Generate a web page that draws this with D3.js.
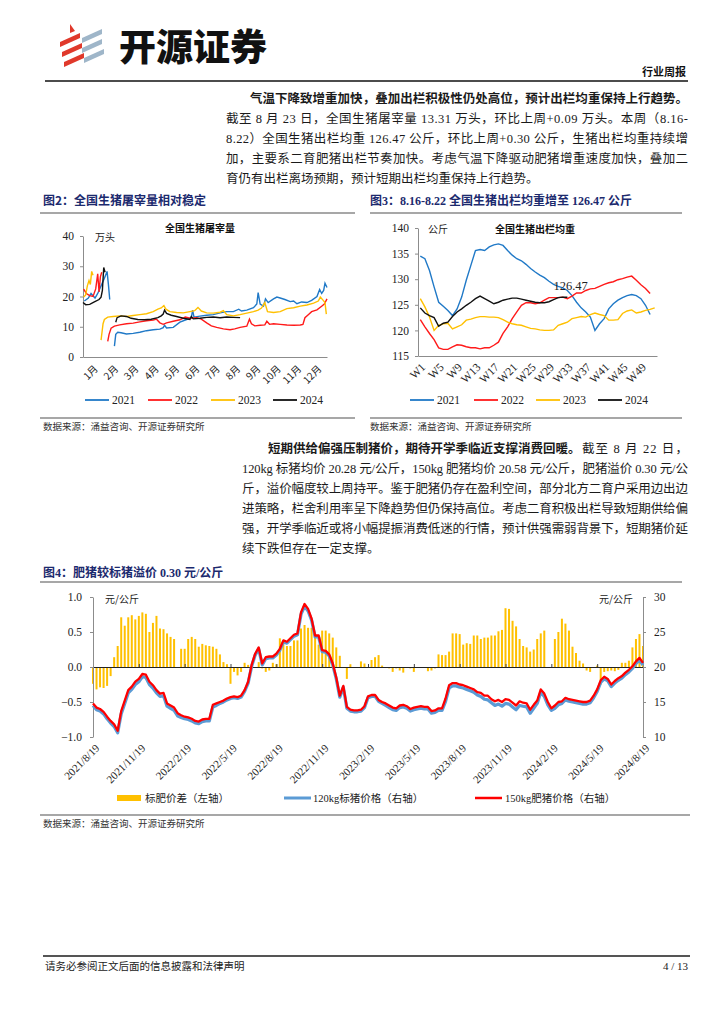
<!DOCTYPE html>
<html><head><meta charset="utf-8">
<script src="https://cdn.jsdelivr.net/npm/d3@7"></script>
<style>body{margin:0;background:#fff}svg{display:block}</style>
</head><body>
<svg id="page" width="724" height="1024"></svg>
<script>
// ---------------- DATA ----------------
// Fig 2: national hog slaughter volume (万头), [day-of-year index, value], null = gap
const slaughterMonths = ["1月","2月","3月","4月","5月","6月","7月","8月","9月","10月","11月","12月"];
const slaughterTicks = [0,10,20,30,40];
const slaughter2021 = [[2,18.5],[8,19.5],[12,21],[18,19.5],[22,21],[28,24],[32,26],[36,28.3],[38,24],[40,19],[44,null],
 [47,3.6],[49,7.5],[52,8.2],[57,8],[65,7.6],[75,7.8],[85,8.2],[95,8.7],[105,9.0],[115,9.2],[120,9.7],[122,10.5],[125,9.6],[135,9.8],[145,11.5],[155,12.4],[162,13],[164,15.5],[166,13.2],[175,13.5],[185,13.8],[195,14.0],[205,14.6],[215,15.0],[225,15.0],[233,15.8],[237,15.2],[245,15.5],[255,16.3],[260,17.5],[262,21.3],[265,17.5],[270,16.8],[273,19.2],[277,18.0],[285,19.2],[290,19.8],[295,19.5],[302,19.0],[310,18.3],[315,18.5],[320,17.6],[327,18.2],[335,18.0],[342,18.7],[350,20.0],[354,22.3],[357,21.0],[360,22.0],[362,24.4],[365,23.0]];
const slaughter2022 = [[1,22.4],[5,21.0],[10,20.3],[15,20.0],[19,22.5],[22,27.5],[24,21.5],[26,26.5],[28,28.0],[32,null],
 [37,5.2],[39,7.5],[42,9.5],[47,10.2],[55,10.6],[65,11.0],[75,11.2],[85,11.6],[95,12.0],[105,12.2],[110,12.5],[115,11.3],[120,10.8],[125,11.3],[135,11.8],[145,12.3],[153,13.2],[160,12.8],[170,13.0],[177,12.5],[185,11.3],[192,10.3],[200,9.8],[210,9.3],[220,9.0],[227,9.3],[235,9.8],[245,10.2],[249,12.5],[252,11.0],[257,10.3],[265,10.5],[272,10.6],[275,11.8],[279,10.8],[285,11.0],[295,10.8],[305,10.6],[315,10.5],[325,10.6],[329,10.8],[332,13.0],[337,14.0],[342,15.0],[350,15.6],[357,16.8],[361,17.5],[365,19.2]];
const slaughter2023 = [[1,19.8],[4,20.5],[6.5,23.5],[9,25.3],[11,24.0],[13,28.3],[15,27.0],[20,null],
 [27,5.6],[30,11.0],[32,12.4],[37,13.2],[45,13.4],[55,13.6],[65,13.4],[75,13.7],[85,14.0],[95,14.3],[105,15.0],[112,15.8],[117,16.2],[121,17.0],[124,15.8],[130,15.0],[140,14.7],[150,14.6],[160,15.0],[167,15.3],[172,16.4],[177,15.2],[185,14.6],[195,14.5],[205,14.8],[210,15.3],[215,14.0],[225,13.6],[235,14.0],[245,14.5],[255,15.0],[262,15.5],[267,16.2],[272,18.0],[276,15.0],[285,14.7],[295,15.0],[305,16.0],[315,16.3],[325,16.8],[335,17.2],[345,17.8],[352,18.5],[355,19.8],[359,18.8],[362,18.0],[364,14.2]];
const slaughter2024 = [[0,18.0],[4,17.3],[10,17.4],[17,18.2],[24,19.0],[27,19.8],[29,22],[31,29.6],[33,28.0],[40,null],
 [49,11.5],[51,13.0],[57,13.6],[65,13.4],[72,12.8],[82,12.4],[92,12.3],[102,12.5],[112,13.0],[117,13.6],[120,14.2],[122,15.5],[125,14.4],[132,13.8],[140,13.4],[150,12.8],[160,12.4],[162,13.4],[165,12.6],[175,12.8],[185,13.1],[195,13.2],[205,13.0],[215,13.2],[225,13.1],[235,13.0]];

// Fig 3: average marketed weight (公斤), weekly W1..W52
const weightWeeks = d3.range(1,53).map(w => "W" + w);
const weightTickWeeks = ["W1","W5","W9","W13","W17","W21","W25","W29","W33","W37","W41","W45","W49"];
const weightTicks = [115,120,125,130,135,140];
const weight2021 = [134.5,134.0,131.7,128.5,125.5,124.7,123.9,122.9,124.2,126.5,129.8,132.7,135.6,135.8,135.6,136.3,136.7,136.9,136.6,135.6,134.7,134.0,133.6,132.9,132.1,131.4,130.8,130.3,129.6,129.0,128.6,128.3,127.8,126.8,125.5,124.4,123.6,122.6,120.0,121.3,122.3,124.2,125.2,125.9,126.4,126.8,127.0,126.8,126.2,124.9,123.1];
const weight2022 = [122.1,120.7,119.4,118.2,116.6,116.3,116.3,116.8,117.2,117.1,116.8,116.6,116.6,116.4,116.6,116.6,117.1,117.7,119.4,120.7,122.3,123.6,124.9,125.4,125.4,125.2,125.4,125.9,126.4,126.4,126.4,126.5,126.2,126.7,127.3,127.3,127.8,128.1,128.2,128.6,129.0,129.3,129.5,129.9,130.1,130.4,130.6,129.8,128.9,128.2,127.2];
const weight2023 = [126.2,124.6,122.6,120.0,121.0,121.3,121.4,120.3,120.7,121.1,122.0,122.2,122.5,122.7,122.7,122.6,122.6,122.5,122.1,121.6,121.3,121.1,121.0,120.7,120.4,120.3,120.1,120.0,120.0,120.1,121.0,121.3,121.6,122.3,122.5,122.7,122.6,123.1,123.4,123.1,122.9,122.0,122.0,122.1,123.3,123.8,124.0,123.4,123.6,123.9,124.1,124.4];
const weight2024 = [124.4,123.4,122.9,122.5,120.8,121.4,121.6,122.7,123.6,124.2,124.9,125.5,126.2,126.7,126.2,125.7,125.2,125.5,125.9,126.1,126.3,126.3,126.1,125.9,125.7,125.5,125.4,125.4,125.6,126.0,126.4,126.5,126.47];

// Fig 4: weekly 2021/8/19 .. 2024/8/19
const priceDateLabels = ["2021/8/19","2021/11/19","2022/2/19","2022/5/19","2022/8/19","2022/11/19","2023/2/19","2023/5/19","2023/8/19","2023/11/19","2024/2/19","2024/5/19","2024/8/19"];
const spreadTicks = [-1.0,-0.5,0.0,0.5,1.0];
const priceTicks = [10,15,20,25,30];
const spread = [-0.24,-0.32,-0.29,-0.30,-0.27,-0.13,0.14,0.30,0.71,0.59,
 0.71,0.74,0.68,0.73,0.78,0.76,0.50,0.63,0.73,0.55,
 0.54,0.48,0.43,0.40,null,0.26,0.26,0.40,0.43,0.40,
 0.29,0.33,0.31,0.30,0.29,0.26,0.18,0.07,0.04,-0.24,
 -0.07,-0.12,-0.07,0.06,0.03,null,null,0.07,-0.02,-0.07,
 -0.05,0.06,0.04,0.41,0.37,0.30,0.30,0.38,0.38,0.55,
 0.60,0.56,0.56,0.46,0.32,0.52,0.52,0.48,0.42,0.28,
 0.16,-0.01,-0.17,0.04,null,null,0.08,0.05,null,0.10,
 0.14,0.17,0.02,null,-0.02,-0.07,-0.02,-0.05,-0.08,-0.01,
 -0.02,-0.07,null,-0.01,null,-0.06,-0.05,-0.02,0.18,0.17,
 0.17,0.22,0.48,0.48,0.47,0.32,0.34,0.33,0.45,0.45,
 0.40,0.42,0.42,0.45,0.45,0.51,0.53,0.84,0.83,0.66,
 0.58,0.40,0.30,0.28,0.22,0.25,0.40,0.48,0.52,null,
 null,0.40,0.50,0.69,0.62,0.52,0.29,0.20,0.09,0.05,
 -0.05,-0.07,null,0.02,-0.25,-0.07,-0.06,-0.05,-0.06,-0.04,
 0.06,0.06,0.09,0.28,0.40,0.47,0.30];
const price150 = [14.8,14.2,14.0,13.6,12.9,12.3,11.8,10.9,13.7,15.2,
 16.7,17.2,17.9,18.3,19.0,18.9,17.9,17.4,16.7,16.2,
 16.3,14.8,14.5,14.2,13.4,13.1,12.9,12.8,12.6,12.3,
 12.2,12.5,12.6,12.6,14.6,14.8,15.0,15.2,15.5,15.7,
 15.8,15.7,15.9,16.7,17.9,20.3,21.9,22.8,20.5,21.4,
 21.5,21.5,21.9,22.6,23.8,23.6,24.1,24.6,24.8,27.8,
 29.0,28.3,26.9,24.5,24.5,22.4,22.3,21.8,20.5,18.5,
 15.9,17.3,14.3,13.9,13.8,13.8,13.9,14.4,15.8,16.0,
 16.0,15.3,15.0,14.8,14.5,14.2,14.1,14.5,14.6,14.4,
 14.0,14.2,14.3,14.4,14.3,14.3,13.7,13.8,14.1,14.1,
 15.5,17.4,17.7,17.7,17.5,17.4,17.2,17.0,16.8,16.4,
 16.3,15.9,15.9,15.4,15.1,15.3,15.0,15.4,15.3,14.9,
 14.5,15.1,14.9,14.8,13.9,14.6,15.2,16.8,16.2,15.0,
 14.1,14.5,15.0,15.1,15.6,15.4,15.3,15.2,15.1,15.0,
 15.0,15.2,15.9,16.8,18.1,18.6,18.3,17.5,18.0,18.4,
 18.7,19.2,19.6,20.1,20.8,21.3,20.58];
const price120 = [14.5,13.9,13.7,13.3,12.6,12.0,11.5,10.6,13.3,14.8,
 16.3,16.8,17.5,17.9,18.6,18.5,17.5,17.0,16.3,15.8,
 15.9,14.4,14.1,13.8,13.0,12.8,12.6,12.5,12.3,12.0,
 11.9,12.2,12.3,12.3,14.3,14.5,14.8,15.0,15.3,15.5,
 15.6,15.5,15.7,16.5,17.7,20.1,21.7,22.6,20.3,21.2,
 21.3,21.3,21.7,22.4,23.6,23.4,23.9,24.4,24.6,27.5,
 28.7,28.0,26.7,24.3,24.3,22.2,22.1,21.6,20.3,18.3,
 15.7,17.1,14.1,13.7,13.6,13.6,13.7,14.2,15.6,15.8,
 15.8,15.1,14.8,14.5,14.2,13.9,13.8,14.2,14.3,14.1,
 13.7,13.9,14.0,14.1,14.0,14.0,13.4,13.5,13.8,13.8,
 15.1,17.0,17.3,17.3,17.1,17.0,16.8,16.6,16.4,16.0,
 15.8,15.4,15.3,14.9,14.5,14.7,14.4,14.8,14.7,14.3,
 13.9,14.5,14.4,14.3,13.4,14.1,14.8,16.4,15.8,14.6,
 13.8,14.1,14.6,14.8,15.3,15.1,15.0,14.9,14.8,14.7,
 14.7,14.9,15.6,16.5,17.8,18.3,18.0,17.2,17.7,18.1,
 18.4,18.9,19.3,19.8,20.5,21.0,20.28];

// ---------------- DRAWING ----------------
const svg = d3.select("#page");
const SERIF = "'Liberation Serif','Noto Sans CJK SC',serif";
const CJK = "'Noto Sans CJK SC',sans-serif";
const NAVY = "#1c2a6e";
const C = {b:"#2079c7", r:"#ff1a1a", y:"#ffc000", k:"#111111"};

function txt(x, y, s, o = {}) {
  const t = svg.append("text").attr("x", x).attr("y", y).text(s)
    .attr("font-family", o.family || SERIF).attr("font-size", o.size || 12)
    .attr("fill", o.fill || "#1a1a1a");
  if (o.bold) t.attr("font-weight", "bold");
  if (o.anchor) t.attr("text-anchor", o.anchor);
  if (o.len) t.attr("textLength", o.len).attr("lengthAdjust", "spacing");
  return t;
}
function hline(x1, x2, y, color, w) {
  svg.append("line").attr("x1", x1).attr("x2", x2).attr("y1", y).attr("y2", y)
    .attr("stroke", color).attr("stroke-width", w);
}

// Header / logo
const logo = svg.append("g");
[[60,42],[62,52],[64,62]].forEach(([x, y]) => {
  logo.append("path").attr("d", `M${x},${y} L${x+20},${y-9} L${x+20},${y-4} L${x},${y+5} Z`).attr("fill", "#e0392b");
});
logo.append("path").attr("d", "M70,24 L75,31 L70,33 Z").attr("fill", "#e0392b");
[[82,38],[82,48],[84,58]].forEach(([x, y]) => {
  logo.append("path").attr("d", `M${x},${y} L${x+20},${y-9} L${x+20},${y-4} L${x},${y+5} Z`).attr("fill", "#9fb6c9");
});
txt(119, 61, "开源证券", {family: CJK, size: 37, bold: true, fill: "#111"}).attr("font-weight", 900);
txt(686, 76, "行业周报", {family: CJK, size: 11, bold: true, anchor: "end", fill: "#111"});
hline(45, 688, 81, "#111", 1.3);

// Paragraph 1
const p1L = 226, pR = 688;
txt(250, 103, "气温下降致增重加快，叠加出栏积极性仍处高位，预计出栏均重保持上行趋势。", {family: CJK, size: 12.5, bold: true, len: pR - 250});
txt(p1L, 123, "截至 8 月 23 日，全国生猪屠宰量 13.31 万头，环比上周+0.09 万头。本周（8.16-", {size: 12.5, len: pR - p1L});
txt(p1L, 143, "8.22）全国生猪出栏均重 126.47 公斤，环比上周+0.30 公斤，生猪出栏均重持续增", {size: 12.5, len: pR - p1L});
txt(p1L, 163, "加，主要系二育肥猪出栏节奏加快。考虑气温下降驱动肥猪增重速度加快，叠加二", {size: 12.5, len: pR - p1L});
txt(p1L, 183, "育仍有出栏离场预期，预计短期出栏均重保持上行趋势。", {size: 12.5});

// Figure titles
txt(43, 205, "图2：全国生猪屠宰量相对稳定", {family: CJK, size: 12, bold: true, fill: NAVY});
txt(370, 205, "图3：8.16-8.22 全国生猪出栏均重增至 126.47 公斤", {size: 12, bold: true, fill: NAVY});
hline(40, 355, 213, "#8a8a8a", 1.5);
hline(370, 682, 213, "#8a8a8a", 1.5);
hline(40, 355, 418, "#8a8a8a", 1.5);
hline(370, 682, 418, "#8a8a8a", 1.5);
txt(43, 430, "数据来源：涌益咨询、开源证券研究所", {family: CJK, size: 9.5, fill: "#333"});
txt(370, 430, "数据来源：涌益咨询、开源证券研究所", {family: CJK, size: 9.5, fill: "#333"});

function styleAxis(g, fs) {
  g.selectAll(".domain").attr("stroke", "#8c8c8c");
  g.selectAll(".tick line").attr("stroke", "#8c8c8c");
  g.selectAll("text").attr("font-family", SERIF).attr("font-size", fs || 11.5).attr("fill", "#222");
}
function legend(items, y) {
  items.forEach(it => {
    svg.append("line").attr("x1", it.x).attr("x2", it.x + 24).attr("y1", y).attr("y2", y)
      .attr("stroke", it.c).attr("stroke-width", 1.8);
    txt(it.x + 27, y + 4, it.t, {size: 11.5, fill: "#222"});
  });
}

// ---- Fig 2 ----
{
  const x = d3.scaleLinear().domain([0, 365]).range([83, 327]);
  const y = d3.scaleLinear().domain([0, 40]).range([357, 236]);
  const xm = d3.scaleBand().domain(slaughterMonths).range([83, 327]);
  const ga = svg.append("g").attr("transform", "translate(83,0)")
    .call(d3.axisLeft(y).tickValues(slaughterTicks).tickSize(3).tickSizeOuter(0).tickPadding(6));
  styleAxis(ga);
  const gb = svg.append("g").attr("transform", "translate(0,357)")
    .call(d3.axisBottom(xm).tickSize(0).tickSizeOuter(0));
  styleAxis(gb, 11);
  gb.selectAll("text").attr("font-family", "'Noto Sans CJK SC'").attr("font-size", 10)
    .attr("text-anchor", "end").attr("y", 0).attr("dy", "0.35em")
    .attr("transform", "translate(3,10) rotate(-45)");
  txt(200, 232, "全国生猪屠宰量", {family: CJK, size: 10, bold: true, anchor: "middle", fill: "#111"});
  txt(95, 241, "万头", {family: CJK, size: 10, fill: "#222"});
  const line = d3.line().defined(d => d[1] !== null).x(d => x(d[0])).y(d => y(d[1]));
  [[slaughter2021, C.b], [slaughter2022, C.r], [slaughter2023, C.y], [slaughter2024, C.k]].forEach(([d, c]) => {
    svg.append("path").datum(d).attr("d", line).attr("fill", "none").attr("stroke", c).attr("stroke-width", 1.4);
  });
  legend([{x: 85, c: C.b, t: "2021"}, {x: 148, c: C.r, t: "2022"}, {x: 211, c: C.y, t: "2023"}, {x: 273, c: C.k, t: "2024"}], 400);
}

// ---- Fig 3 ----
{
  const x = d3.scaleBand().domain(weightWeeks).range([418, 657]);
  const xc = w => x(w) + x.bandwidth() / 2;
  const y = d3.scaleLinear().domain([115, 140]).range([356, 228]);
  const ga = svg.append("g").attr("transform", "translate(418,0)")
    .call(d3.axisLeft(y).tickValues(weightTicks).tickSize(3).tickSizeOuter(0).tickPadding(6));
  styleAxis(ga);
  const gb = svg.append("g").attr("transform", "translate(0,356)")
    .call(d3.axisBottom(x).tickValues(weightTickWeeks).tickSize(0).tickSizeOuter(0));
  styleAxis(gb, 11.5);
  gb.selectAll("text").attr("text-anchor", "end").attr("y", 0).attr("dy", "0.35em")
    .attr("transform", "translate(3,9) rotate(-45)");
  txt(535, 233, "全国生猪出栏均重", {family: CJK, size: 10, bold: true, anchor: "middle", fill: "#111"});
  txt(428, 233, "公斤", {family: CJK, size: 10, fill: "#222"});
  const line = d3.line().x((d, i) => xc(weightWeeks[i])).y(d => y(d));
  [[weight2021, C.b], [weight2022, C.r], [weight2023, C.y], [weight2024, C.k]].forEach(([d, c]) => {
    svg.append("path").datum(d).attr("d", line).attr("fill", "none").attr("stroke", c).attr("stroke-width", 1.4);
  });
  const last = weight2024[weight2024.length - 1];
  txt(xc(weightWeeks[weight2024.length - 1]) - 14, y(last) - 7, String(last), {size: 12.5, fill: "#222"});
  legend([{x: 410, c: C.b, t: "2021"}, {x: 474, c: C.r, t: "2022"}, {x: 536, c: C.y, t: "2023"}, {x: 598, c: C.k, t: "2024"}], 400);
}

// Paragraph 2
const p2L = 242;
txt(268, 453, "短期供给偏强压制猪价，期待开学季临近支撑消费回暖。", {family: CJK, size: 12.5, bold: true});
txt(pR, 453, "截至 8 月 22 日，", {size: 12.5, anchor: "end", len: 106});
txt(p2L, 473, "120kg 标猪均价 20.28 元/公斤，150kg 肥猪均价 20.58 元/公斤，肥猪溢价 0.30 元/公", {size: 12.5, len: pR - p2L});
txt(p2L, 493, "斤，溢价幅度较上周持平。鉴于肥猪仍存在盈利空间，部分北方二育户采用边出边", {size: 12.5, len: pR - p2L});
txt(p2L, 513, "进策略，栏舍利用率呈下降趋势但仍保持高位。考虑二育积极出栏导致短期供给偏", {size: 12.5, len: pR - p2L});
txt(p2L, 533, "强，开学季临近或将小幅提振消费低迷的行情，预计供强需弱背景下，短期猪价延", {size: 12.5, len: pR - p2L});
txt(p2L, 553, "续下跌但存在一定支撑。", {size: 12.5});

// ---- Fig 4 ----
txt(43, 577, "图4：肥猪较标猪溢价 0.30 元/公斤", {size: 12, bold: true, fill: NAVY});
hline(40, 682, 582, "#8a8a8a", 1.5);
{
  const n = price150.length;
  const x = d3.scaleLinear().domain([0, n - 1]).range([93, 643]);
  const yl = d3.scaleLinear().domain([-1, 1]).range([737, 597]);
  const yr = d3.scaleLinear().domain([10, 30]).range([737, 597]);
  const tickIdx = priceDateLabels.map((d, i) => i * 13);
  // bars
  svg.append("g").selectAll("rect").data(spread.map((v, i) => [i, v]).filter(d => d[1] !== null))
    .join("rect").attr("x", d => x(d[0]) - 1).attr("width", 2)
    .attr("y", d => Math.min(yl(d[1]), yl(0))).attr("height", d => Math.abs(yl(d[1]) - yl(0)))
    .attr("fill", C.y);
  // zero axis
  const gz = svg.append("g").attr("transform", `translate(0,${yl(0)})`)
    .call(d3.axisBottom(x).tickValues(tickIdx).tickFormat("").tickSizeInner(-3).tickSizeOuter(0));
  gz.selectAll(".domain").attr("stroke", "#222").attr("stroke-width", 1.2);
  gz.selectAll(".tick line").attr("stroke", "#444");
  // left / right axes
  const gl = svg.append("g").attr("transform", "translate(93,0)")
    .call(d3.axisLeft(yl).tickValues(spreadTicks).tickFormat(d3.format(".1f")).tickSize(3).tickSizeOuter(0).tickPadding(8));
  styleAxis(gl);
  const gr = svg.append("g").attr("transform", "translate(643,0)")
    .call(d3.axisRight(yr).tickValues(priceTicks).tickSize(3).tickSizeOuter(0).tickPadding(8));
  styleAxis(gr);
  // bottom labels
  const gb = svg.append("g").attr("transform", "translate(0,737)")
    .call(d3.axisBottom(x).tickValues(tickIdx).tickFormat((d, i) => priceDateLabels[i]).tickSize(0));
  gb.select(".domain").remove();
  styleAxis(gb, 11);
  gb.selectAll("text").attr("text-anchor", "end").attr("y", 0).attr("dy", "0.35em")
    .attr("transform", "translate(4,9) rotate(-45)");
  // lines
  const l = d3.line().x((d, i) => x(i)).y(d => yr(d));
  svg.append("path").datum(price120).attr("d", l).attr("fill", "none").attr("stroke", "#5b9bd5").attr("stroke-width", 3.2).attr("stroke-linejoin", "round");
  svg.append("path").datum(price150).attr("d", l).attr("fill", "none").attr("stroke", "#ff0000").attr("stroke-width", 2.3).attr("stroke-linejoin", "round");
  txt(105, 603, "元/公斤", {family: CJK, size: 10, fill: "#222"});
  txt(633, 603, "元/公斤", {family: CJK, size: 10, fill: "#222", anchor: "end"});
  // legend
  svg.append("rect").attr("x", 117).attr("y", 795).attr("width", 24).attr("height", 6).attr("fill", C.y);
  txt(145, 802, "标肥价差（左轴）", {size: 10.5, fill: "#222"});
  svg.append("line").attr("x1", 284).attr("x2", 311).attr("y1", 798).attr("y2", 798).attr("stroke", "#5b9bd5").attr("stroke-width", 3);
  txt(313, 802, "120kg标猪价格（右轴）", {size: 10.5, fill: "#222"});
  svg.append("line").attr("x1", 475).attr("x2", 502).attr("y1", 798).attr("y2", 798).attr("stroke", "#ff0000").attr("stroke-width", 2.5);
  txt(505, 802, "150kg肥猪价格（右轴）", {size: 10.5, fill: "#222"});
}
hline(40, 690, 815, "#8a8a8a", 1.5);
txt(43, 827, "数据来源：涌益咨询、开源证券研究所", {family: CJK, size: 9.5, fill: "#333"});

// Footer
hline(43, 690, 956, "#555", 2);
txt(45, 970, "请务必参阅正文后面的信息披露和法律声明", {family: CJK, size: 10.5, fill: "#222"});
txt(688, 970, "4 / 13", {size: 11, anchor: "end", fill: "#222"});
</script>
</body></html>
